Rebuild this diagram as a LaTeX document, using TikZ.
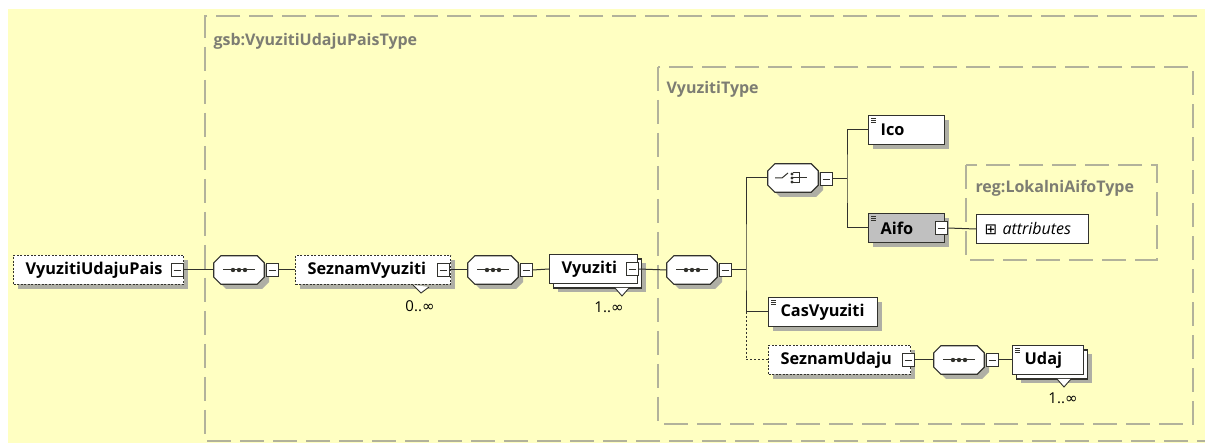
\documentclass[tikz,border=0pt]{standalone}
\usepackage{fontspec}
\setmainfont{Open Sans}
\newfontfamily\symfont{DejaVu Sans}
\definecolor{paper}{RGB}{255,255,194}
\definecolor{framegray}{RGB}{178,178,155}
\definecolor{labelgray}{RGB}{125,125,115}
\definecolor{shadowgray}{RGB}{175,175,165}
\definecolor{aifogray}{RGB}{192,192,192}
\definecolor{edge}{RGB}{50,50,45}
\newcommand{\bordw}{1.2pt}
\newcommand{\chamf}{7pt}
\newcommand{\multi}[1]{{\fontsize{15}{17}\selectfont #1..{\symfont ∞}}}
\newcommand{\octpath}[1]{([xshift=\chamf]#1.north west) -- ([xshift=-\chamf]#1.north east) -- ([yshift=-\chamf]#1.north east) -- ([yshift=\chamf]#1.south east) -- ([xshift=-\chamf]#1.south east) -- ([xshift=\chamf]#1.south west) -- ([yshift=\chamf]#1.south west) -- ([yshift=-\chamf]#1.north west) -- cycle}

\begin{document}
\begin{tikzpicture}[x=1pt,y=-1pt]
            \tikzset{
                typeframe/.style={draw=framegray, line width=1.8pt, dash pattern=on 24pt off 9pt},
                typelabel/.style={anchor=west, text=labelgray, font=\bfseries\fontsize{16}{18}\selectfont},
                elem/.style={draw=edge, fill=white, line width=\bordw, minimum height=29pt, inner xsep=12pt, inner ysep=0pt, anchor=west, align=left, font=\bfseries\fontsize{16.3}{18}\selectfont},
                optelem/.style={elem, dash pattern=on 2pt off 1.5pt},
                manyelem/.style={preaction={draw=edge, fill=white, line width=\bordw, transform canvas={shift={(4pt,-4.5pt)}}}, elem},
                comp/.style={minimum width=50pt, minimum height=28pt, inner sep=0pt},
                btn/.style={draw=edge, fill=white, line width=0.9pt, minimum width=12pt, minimum height=13pt, inner sep=0pt, path picture={\draw[line width=0.9pt] ([xshift=2.5pt]path picture bounding box.west) -- ([xshift=-2.5pt]path picture bounding box.east);}},
                conn/.style={draw=edge, line width=1pt},
                notch/.style={draw=edge, fill=white, line width=0.9pt},
            }
            \useasboundingbox (0,0) rectangle (1205,443);
            \path[fill=paper] (8,9) rectangle (1205,443);
            %\draw[help lines] (0,0) grid (1205,443);
            % shadows of the element boxes (x, y of the top left corner, width)
            \foreach \x/\y/\w in {18/260.5/170, 300/260.5/155, 558/263.5/88, 873/120.5/76, 873/218.5/76, 773/302.5/109, 773/350.5/142, 1021/354.5/71} {
                \path[fill=shadowgray] (\x,\y) rectangle ++(\w,29);
            }
            % shadows of the compositors (centre)
            \foreach \x/\y in {244/275, 498/275, 697/275, 798/183, 964/365} {
                \path[fill=shadowgray] (\x,\y) ++(-18,-14) -- ++(36,0) -- ++(7,7) -- ++(0,14) -- ++(-7,7) -- ++(-36,0) -- ++(-7,-7) -- ++(0,-14) -- cycle;
            }
            % type frames
            \draw[typeframe] (1230,16) -- (205,16) -- (205,441) -- (1230,441);
            \draw[typeframe] (658,67) rectangle (1193,424);
            \draw[typeframe] (966,165) rectangle (1157,260);
            \node[typelabel] (gsbtype) at (210,41) {gsb:VyuzitiUdajuPaisType};
            \node[typelabel] (vyuztype) at (663,89) {VyuzitiType};
            \node[typelabel] (regtype) at (972,188) {reg:LokalniAifoType};
            % compositors
            \node[comp] (seq1) at (239,270) {};
            \node[comp] (seq2) at (493,270) {};
            \node[comp] (seq3) at (692,270) {};
            \node[comp] (choice) at (793,178) {};
            \node[comp] (seq5) at (959,360) {};
            \foreach \c in {seq1,seq2,seq3,choice,seq5} {
                \filldraw[fill=white, draw=edge, line width=\bordw] \octpath{\c};
            }
            \foreach \c in {seq1,seq2,seq3,seq5} {
                \draw[conn] ([xshift=-16pt]\c.center) -- ([xshift=16pt]\c.center);
                \foreach \d in {-6,0,6} {
                    \fill[edge] ([xshift=\d pt]\c.center) circle (2.2pt);
                }
            }
            \draw[conn] ([xshift=-18pt]choice.center) -- ([xshift=-11pt]choice.center) -- ([xshift=-5pt,yshift=5pt]choice.center);
            \draw[conn] ([yshift=5pt]choice.center) -| ([xshift=6pt,yshift=-5pt]choice.center) -- ([yshift=-5pt]choice.center);
            \draw[conn] (choice.center) -- ([xshift=14pt]choice.center);
            \foreach \d in {-4,0,4} {
                \fill[edge] ([xshift=-1pt,yshift=\d pt]choice.center) circle (1.6pt);
            }
            % elements
            \node[optelem, text width=146pt] (pais) at (13,270) {VyuzitiUdajuPais};
            \node[optelem, text width=131pt] (seznamv) at (295,270) {SeznamVyuziti};
            \node[manyelem, text width=64pt] (vyuz) at (549,269) {Vyuziti};
            \node[elem, text width=52pt] (ico) at (868,130) {Ico};
            \node[elem, text width=52pt, fill=aifogray] (aifo) at (868,228) {Aifo};
            \node[elem, text width=96pt, inner xsep=8pt, font=\itshape\fontsize{16}{18}\selectfont] (attr) at (976,229) {\raisebox{0pt}{\symfont\fontsize{15}{17}\selectfont ⊞} attributes};
            \node[elem, text width=85pt] (cas) at (768,312) {CasVyuziti};
            \node[optelem, text width=118pt] (seznamu) at (768,360) {SeznamUdaju};
            \node[manyelem, text width=47pt] (udaj) at (1012,360) {Udaj};
            % minus buttons
            \node[btn] (pais-b) at (177,270) {};
            \node[btn] (seq1-b) at (272,270) {};
            \node[btn] (seznamv-b) at (443,270) {};
            \node[btn] (seq2-b) at (526,270) {};
            \node[btn] (vyuz-b) at (632,269) {};
            \node[btn] (seq3-b) at (725,270) {};
            \node[btn] (choice-b) at (826,179) {};
            \node[btn] (aifo-b) at (941,228) {};
            \node[btn] (seznamu-b) at (908,360) {};
            \node[btn] (seq5-b) at (992,360) {};
            % element icons
            \foreach \n in {ico,aifo,cas,udaj} {
                \foreach \k in {3,5,7} {
                    \draw[edge, line width=0.6pt] ([xshift=3pt,yshift=-\k pt]\n.north west) -- ([xshift=8pt,yshift=-\k pt]\n.north west);
                }
            }
            % multiplicity
            \draw[notch] (413,285) -- (421,293) -- (429,287);
            \node (seznamv-m) at (420,306) {\multi{0}};
            \draw[notch] (615,288) -- (622,296) -- (629,288);
            \node (vyuz-m) at (609,307) {\multi{1}};
            \draw[notch] (1057,379) -- (1064,387) -- (1071,379);
            \node (udaj-m) at (1063,398) {\multi{1}};
            % connectors
            \draw[conn] (pais-b.east) -- (seq1.west);
            \draw[conn] (seq1-b.east) -- (seznamv.west);
            \draw[conn] (seznamv-b.east) -- (seq2.west);
            \draw[conn] (seq2-b.east) -- (vyuz.west);
            \draw[conn] (vyuz-b.east) -- (seq3.west);
            \coordinate (trunk) at (746,270);
            \coordinate (branch) at (847,179);
            \draw[conn] (seq3-b.east) -- (trunk);
            \draw[conn] (choice.west) -| (trunk) |- (cas.west);
            \draw[conn, dash pattern=on 2pt off 2pt] (cas.west -| trunk) |- (seznamu.west);
            \draw[conn] (choice-b.east) -- (branch);
            \draw[conn] (ico.west) -| (branch) |- (aifo.west);
            \draw[conn] (aifo-b.east) -- (attr.west);
            \draw[conn] (seznamu-b.east) -- (seq5.west);
            \draw[conn] (seq5-b.east) -- (udaj.west);
\end{tikzpicture}
\end{document}
